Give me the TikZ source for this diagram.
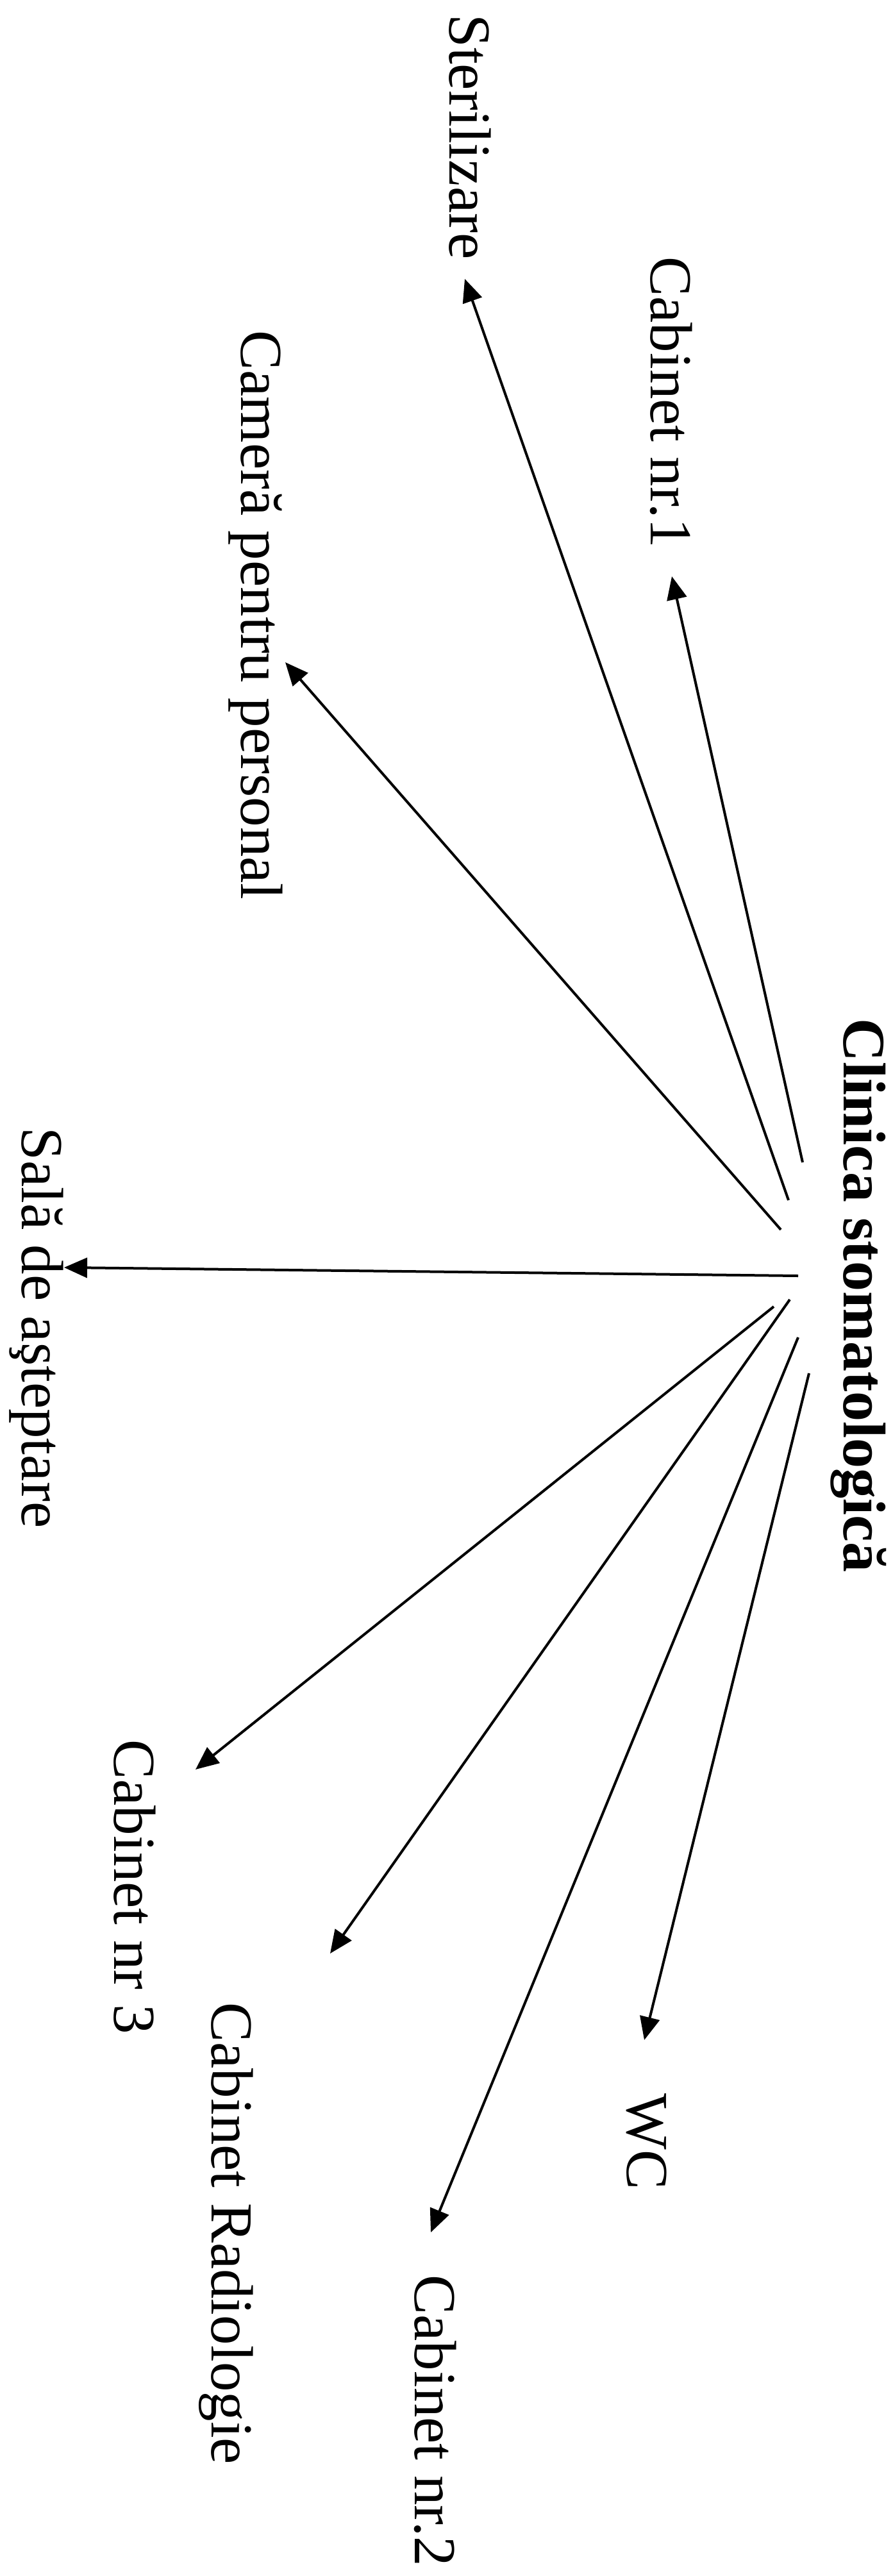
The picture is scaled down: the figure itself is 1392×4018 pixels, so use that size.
\documentclass[tikz,border=0pt]{standalone}
\usepackage{fontspec}
\setmainfont{Liberation Serif}
\usetikzlibrary{arrows.meta}
\begin{document}
\begin{tikzpicture}[x=0.5pt,y=-0.5pt,
  lbl/.style={rotate=-90,anchor=base west,inner sep=0pt,font=\fontsize{46.5}{56}\selectfont},
  ttl/.style={rotate=-90,anchor=base west,inner sep=0pt,font=\fontsize{47}{56}\selectfont\bfseries},
  arr/.style={line width=2pt,-{Triangle[length=18pt,width=15.5pt]}}]
\useasboundingbox (0,0) rectangle (1392,4018);
% texts
\node[ttl] (clin) at (1316,1588) {Clinica stomatologică};
\node[lbl] (ster) at (701,22) {Sterilizare};
\node[lbl] (cab1) at (1015,400) {Cabinet nr.1};
\node[lbl] (cam) at (376,515) {Cameră pentru personal};
\node[lbl] (sala) at (34,1758) {Sală de aşteptare};
\node[lbl] (cab3) at (178,2713) {Cabinet nr 3};
\node[lbl] (rad) at (330,3123) {Cabinet Radiologie};
\node[lbl] (cab2) at (647,3548) {Cabinet nr.2};
\node[lbl] (wc) at (978,3265) {WC};
% arrow start points near the title
\coordinate (s1) at (1252,1813);
\coordinate (s2) at (1230,1872);
\coordinate (s3) at (1218,1918);
\coordinate (s4) at (1245,1990);
\coordinate (s5) at (1207,2038);
\coordinate (s6) at (1232,2027);
\coordinate (s7) at (1245,2086);
\coordinate (s8) at (1262,2142);
% arrow tips near the labels
\coordinate (t1) at (1048,899);
\coordinate (t2) at (725,435);
\coordinate (t3) at (445,1033);
\coordinate (t4) at (100,1977);
\coordinate (t5) at (305,2760);
\coordinate (t6) at (515,3047);
\coordinate (t7) at (672,3482);
\coordinate (t8) at (1005,3182);
% connectors
\draw[arr] (s1) -- (t1);
\draw[arr] (s2) -- (t2);
\draw[arr] (s3) -- (t3);
\draw[arr] (s4) -- (t4);
\draw[arr] (s5) -- (t5);
\draw[arr] (s6) -- (t6);
\draw[arr] (s7) -- (t7);
\draw[arr] (s8) -- (t8);
\end{tikzpicture}
\end{document}
